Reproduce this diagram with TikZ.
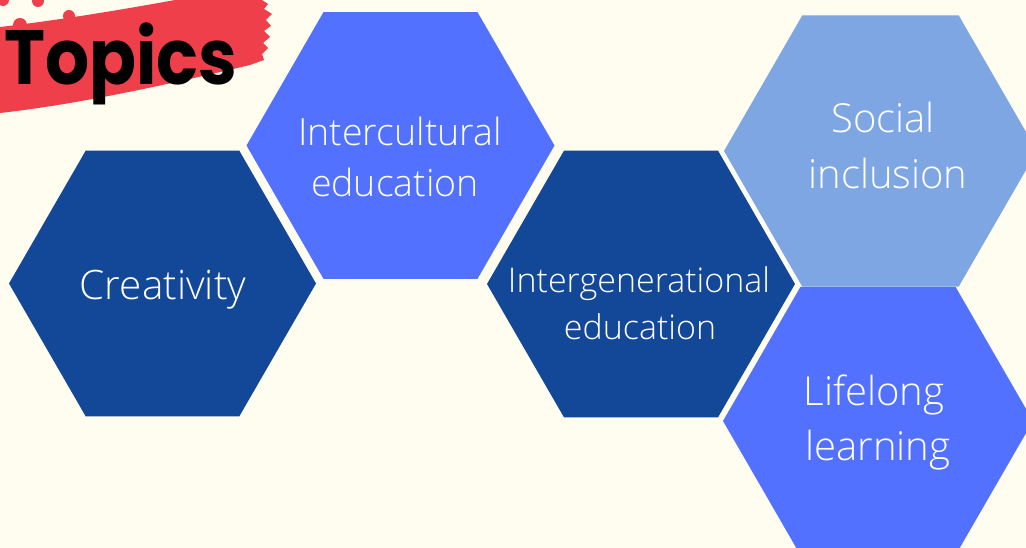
\documentclass[tikz,border=0pt]{standalone}
\usepackage{fontspec}
\usetikzlibrary{shapes.geometric}
\newfontfamily\lightfont{Open Sans}[UprightFont={* Light}]
\newfontfamily\titlefont{Poppins}[UprightFont={* Bold}, FakeStretch=0.9]
\definecolor{bgcream}{RGB}{255,252,240}
\definecolor{darkblue}{RGB}{19,71,151}
\definecolor{midblue}{RGB}{82,113,255}
\definecolor{lightblue}{RGB}{125,166,227}
\definecolor{brushred}{RGB}{238,63,75}
\tikzset{
  hexa/.style={regular polygon, regular polygon sides=6, inner sep=0pt, outer sep=0pt, draw=none},
  hexlabel/.style={anchor=base, text=white, inner sep=0pt, font=\lightfont\fontsize{#1}{#1}\selectfont},
}
\begin{document}
\begin{tikzpicture}[x=1pt,y=-1pt]
\fill[bgcream] (0,0) rectangle (1026,548);
\useasboundingbox (0,0) rectangle (1026,548);
% brush
\fill[brushred] (0,27) .. controls (60,20) and (120,10) .. (175,0) -- (262,0)
  -- (268,4) -- (264,9) -- (272,14) -- (266,20) -- (271,26) -- (264,31) -- (270,37)
  -- (263,43) -- (268,48) -- (262,54) -- (264,60) -- (250,65)
  .. controls (170,84) and (80,104) .. (0,113) -- cycle;
\fill[brushred] (20,25) circle (7);
\fill[brushred] (3,0) circle (6);
\fill[brushred] (38,1) circle (6);
\fill[brushred] (69,16) circle (6);
\node[anchor=base west, inner sep=0pt, font=\titlefont\fontsize{77}{77}\selectfont] (title) at (4,85) {Topics};
% hexagons
\node[hexa, fill=darkblue, minimum size=307pt] (h1) at (162.5,283.5) {};
\node[hexa, fill=midblue, minimum size=308pt] (h2) at (400.5,145.5) {};
\node[hexa, fill=darkblue, minimum size=308pt] (h3) at (641,284) {};
\node[hexa, fill=lightblue, minimum size=313pt] (h4) at (880.5,151) {};
\node[hexa, fill=midblue, minimum size=310pt] (h5) at (878,421) {};
% labels
\node[hexlabel=40.5] (t1) at (163,299) {Creativity};
\node[hexlabel=37.5] (t2a) at (400,146) {Intercultural};
\node[hexlabel=37.5] (t2b) at (395,197) {education};
\node[hexlabel=34] (t3a) at (639,293) {Intergenerational};
\node[hexlabel=34] (t3b) at (640,339) {education};
\node[hexlabel=40] (t4a) at (883,133) {Social};
\node[hexlabel=40] (t4b) at (888,189) {inclusion};
\node[hexlabel=40] (t5a) at (874,405) {Lifelong};
\node[hexlabel=40] (t5b) at (878,460) {learning};
\end{tikzpicture}
\end{document}
